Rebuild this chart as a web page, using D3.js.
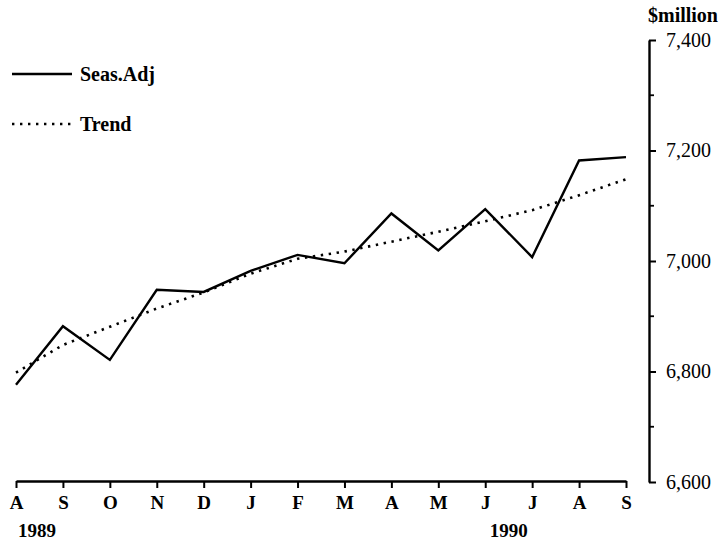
<!DOCTYPE html>
<html>
<head>
<meta charset="utf-8">
<script src="https://cdn.jsdelivr.net/npm/d3@7"></script>
<style>
  body { margin: 0; background: #fff; }
  svg { display: block; font-family: "Liberation Serif", "Times New Roman", serif; }
</style>
</head>
<body>
<div id="wrapper"></div>
<script>
// months Aug 1989 - Sep 1990
const months = ["A", "S", "O", "N", "D", "J", "F", "M", "A", "M", "J", "J", "A", "S"];
const seasAdj = [6776, 6882, 6821, 6948, 6944, 6982, 7011, 6996, 7086, 7019, 7094, 7007, 7182, 7188];
const trend = [6798, 6848, 6881, 6914, 6943, 6977, 7004, 7017, 7035, 7053, 7072, 7092, 7119, 7148];
const yTicks = [6600, 6800, 7000, 7200, 7400];
const yMinor = [6700, 6900, 7100, 7300];
const years = [{ label: "1989", at: 0.45 }, { label: "1990", at: 10.5 }];

const width = 723;
const height = 546;

const svg = d3.select("#wrapper")
  .append("svg")
  .attr("width", width)
  .attr("height", height);

// x: punten per maand
const x = d3.scalePoint()
  .domain(d3.range(months.length))
  .range([16, 626]);

const y = d3.scaleLinear()
  .domain([6600, 7400])
  .range([482, 40]);

// x-as onderaan
const xAxis = svg.append("g")
  .attr("transform", "translate(0,481)")
  .call(d3.axisBottom(x).tickSize(7).tickSizeOuter(0).tickPadding(8).tickFormat(i => months[i]));
xAxis.select(".domain").attr("stroke-width", 2.4);
xAxis.selectAll(".tick line").attr("stroke-width", 2);
xAxis.selectAll(".tick text")
  .attr("font-size", 19).attr("font-weight", "bold").attr("fill", "#000")
  .attr("font-family", "Liberation Serif, serif");

svg.selectAll(".year")
  .data(years)
  .join("text")
  .attr("class", "year")
  .attr("x", d => x(0) + d.at * x.step())
  .attr("y", 537)
  .attr("text-anchor", "middle")
  .attr("font-size", 19)
  .attr("font-weight", "bold")
  .text(d => d.label);

// y-as rechts
const yAxis = svg.append("g")
  .attr("transform", "translate(649,0)")
  .call(d3.axisRight(y).tickValues(yTicks).tickSize(7).tickSizeOuter(0).tickPadding(10).tickFormat(d3.format(",")));
yAxis.select(".domain").attr("stroke-width", 2.4);
yAxis.selectAll(".tick line").attr("stroke-width", 2);
yAxis.selectAll(".tick text")
  .attr("font-size", 20).attr("fill", "#000")
  .attr("font-family", "Liberation Serif, serif");

svg.append("g")
  .selectAll("line")
  .data(yMinor)
  .join("line")
  .attr("x1", 649).attr("x2", 654)
  .attr("y1", d => y(d)).attr("y2", d => y(d))
  .attr("stroke", "#000").attr("stroke-width", 1.8);

svg.append("text")
  .attr("x", 683)
  .attr("y", 22)
  .attr("text-anchor", "middle")
  .attr("font-size", 20)
  .attr("font-weight", "bold")
  .text("$million");

// lijnen
const line = d3.line()
  .x((d, i) => x(i))
  .y(d => y(d));

svg.append("path")
  .datum(trend)
  .attr("d", line)
  .attr("fill", "none")
  .attr("stroke", "#000")
  .attr("stroke-width", 2.6)
  .attr("stroke-dasharray", "2.4,5.6");

svg.append("path")
  .datum(seasAdj)
  .attr("d", line)
  .attr("fill", "none")
  .attr("stroke", "#000")
  .attr("stroke-width", 2.4)
  .attr("stroke-linejoin", "miter");

// legenda
const legend = [
  { label: "Seas.Adj", y: 74, dash: null, w: 2.4 },
  { label: "Trend", y: 124, dash: "2.4,5.6", w: 2.6 }
];
const lg = svg.append("g");
lg.selectAll("line")
  .data(legend)
  .join("line")
  .attr("x1", 12).attr("x2", 72)
  .attr("y1", d => d.y).attr("y2", d => d.y)
  .attr("stroke", "#000")
  .attr("stroke-width", d => d.w)
  .attr("stroke-dasharray", d => d.dash);
lg.selectAll("text")
  .data(legend)
  .join("text")
  .attr("x", 80)
  .attr("y", d => d.y)
  .attr("dy", "0.35em")
  .attr("font-size", 20)
  .attr("font-weight", "bold")
  .text(d => d.label);
</script>
</body>
</html>
